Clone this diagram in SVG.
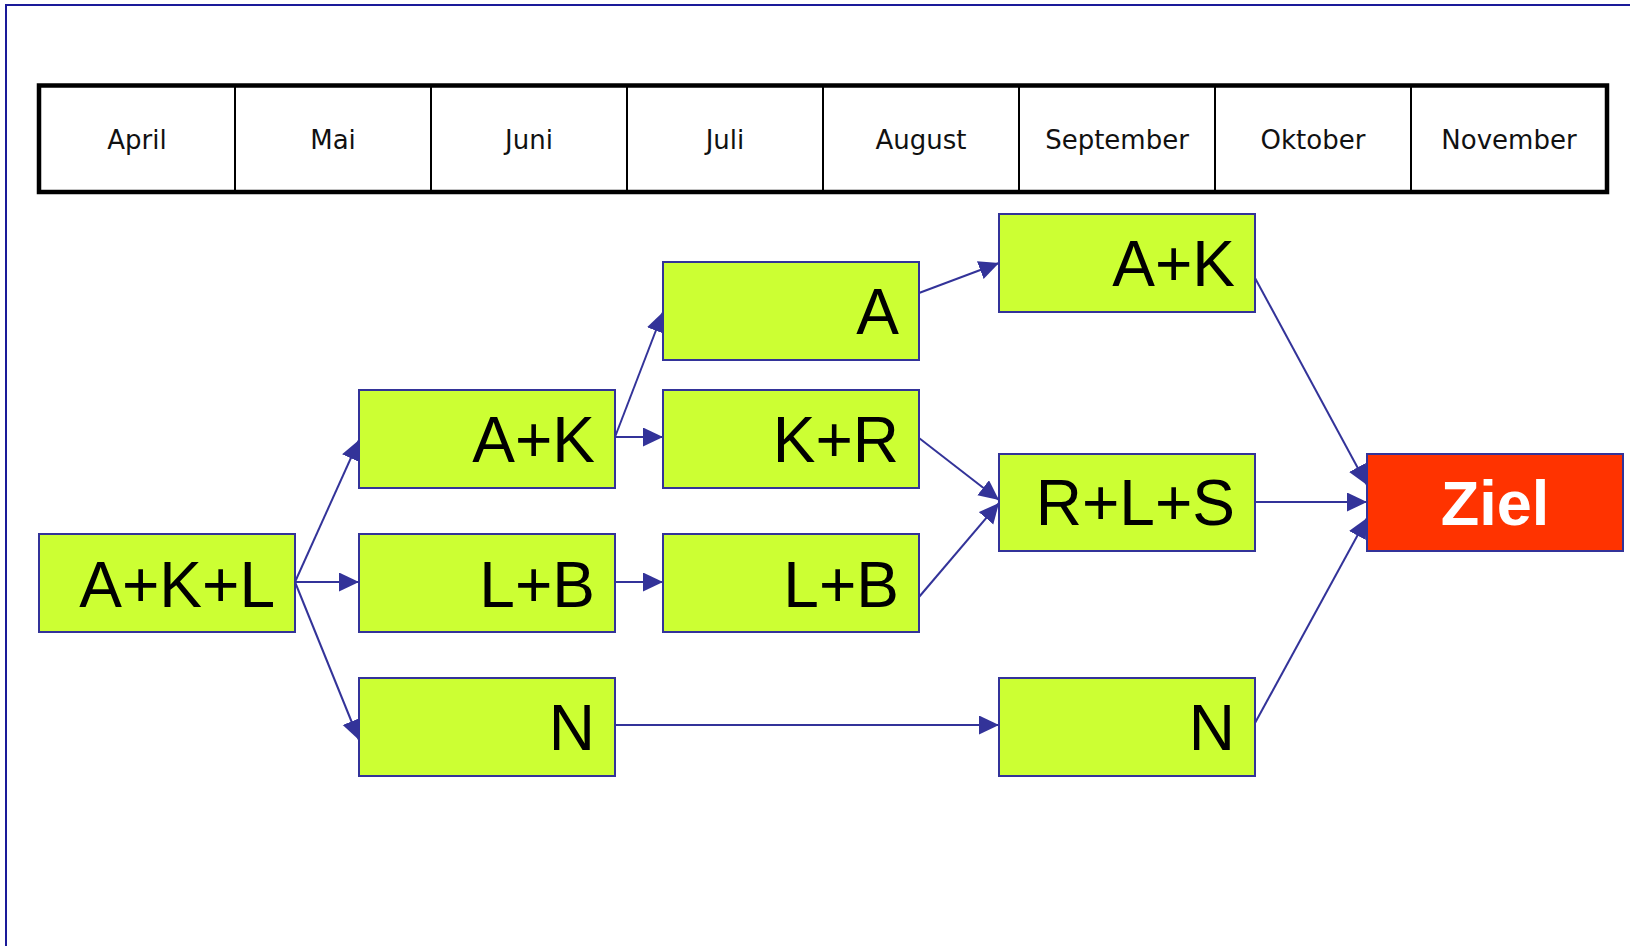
<svg xmlns="http://www.w3.org/2000/svg" width="1630" height="946" viewBox="0 0 1630 946">
<style>
.frame{fill:none;stroke:#1a1a99;stroke-width:2}
.cell{fill:#ffffff;stroke:#000000;stroke-width:2}
.outer{fill:none;stroke:#000000;stroke-width:4.5}
.month{font-family:"DejaVu Sans",Verdana,sans-serif;font-size:26px;fill:#111111;text-anchor:middle}
.box{fill:#ccff33;stroke:#333399;stroke-width:2}
.goal{fill:#ff3300;stroke:#333399;stroke-width:2}
.lbl{font-family:"Liberation Sans",Arial,sans-serif;font-size:64px;fill:#000000;text-anchor:end}
.glbl{font-family:"Liberation Sans",Arial,sans-serif;font-size:63px;font-weight:bold;fill:#ffffff;text-anchor:middle}
.edge{fill:none;stroke:#333399;stroke-width:2;marker-end:url(#arr)}
</style>
<defs>
<marker id="arr" markerUnits="userSpaceOnUse" markerWidth="21" markerHeight="20" refX="20" refY="9.5" orient="auto">
<path d="M0,0 L20,9.5 L0,19 Z" fill="#333399"/>
</marker>
</defs>
<rect x="0" y="0" width="1630" height="946" fill="#ffffff"/>
<rect class="frame" x="6" y="5" width="1700" height="1000"/>
<g id="timeline">
<rect class="cell" x="39" y="85.5" width="196" height="106.5"/>
<rect class="cell" x="235" y="85.5" width="196" height="106.5"/>
<rect class="cell" x="431" y="85.5" width="196" height="106.5"/>
<rect class="cell" x="627" y="85.5" width="196" height="106.5"/>
<rect class="cell" x="823" y="85.5" width="196" height="106.5"/>
<rect class="cell" x="1019" y="85.5" width="196" height="106.5"/>
<rect class="cell" x="1215" y="85.5" width="196" height="106.5"/>
<rect class="cell" x="1411" y="85.5" width="196" height="106.5"/>
<rect class="outer" x="39" y="85.5" width="1568" height="106.5"/>
<text class="month" x="137" y="149">April</text>
<text class="month" x="333" y="149">Mai</text>
<text class="month" x="529" y="149">Juni</text>
<text class="month" x="725" y="149">Juli</text>
<text class="month" x="921" y="149">August</text>
<text class="month" x="1117" y="149">September</text>
<text class="month" x="1313" y="149">Oktober</text>
<text class="month" x="1509" y="149">November</text>
</g>
<g id="connectors">
<line class="edge" x1="295" y1="582" x2="359" y2="440"/>
<line class="edge" x1="295" y1="582" x2="359" y2="582"/>
<line class="edge" x1="295" y1="582" x2="359" y2="740"/>
<line class="edge" x1="615" y1="437" x2="663" y2="312"/>
<line class="edge" x1="615" y1="437" x2="663" y2="437"/>
<line class="edge" x1="615" y1="582" x2="663" y2="582"/>
<line class="edge" x1="919" y1="293" x2="999" y2="263"/>
<line class="edge" x1="919" y1="438" x2="999" y2="500"/>
<line class="edge" x1="919" y1="597" x2="999" y2="503"/>
<line class="edge" x1="615" y1="725" x2="999" y2="725"/>
<line class="edge" x1="1255" y1="278" x2="1367" y2="485"/>
<line class="edge" x1="1255" y1="502" x2="1367" y2="502"/>
<line class="edge" x1="1255" y1="723" x2="1367" y2="518"/>
</g>
<g id="n_akl"><rect class="box" x="39" y="534" width="256" height="98"/><text class="lbl" x="275" y="607">A+K+L</text></g>
<g id="n_ak1"><rect class="box" x="359" y="390" width="256" height="98"/><text class="lbl" x="595" y="462">A+K</text></g>
<g id="n_lb1"><rect class="box" x="359" y="534" width="256" height="98"/><text class="lbl" x="595" y="607">L+B</text></g>
<g id="n_n1"><rect class="box" x="359" y="678" width="256" height="98"/><text class="lbl" x="595" y="750">N</text></g>
<g id="n_a"><rect class="box" x="663" y="262" width="256" height="98"/><text class="lbl" x="899" y="334">A</text></g>
<g id="n_kr"><rect class="box" x="663" y="390" width="256" height="98"/><text class="lbl" x="899" y="462">K+R</text></g>
<g id="n_lb2"><rect class="box" x="663" y="534" width="256" height="98"/><text class="lbl" x="899" y="607">L+B</text></g>
<g id="n_ak2"><rect class="box" x="999" y="214" width="256" height="98"/><text class="lbl" x="1235" y="286">A+K</text></g>
<g id="n_rls"><rect class="box" x="999" y="454" width="256" height="97"/><text class="lbl" x="1235" y="525">R+L+S</text></g>
<g id="n_n2"><rect class="box" x="999" y="678" width="256" height="98"/><text class="lbl" x="1235" y="750">N</text></g>
<g id="n_ziel"><rect class="goal" x="1367" y="454" width="256" height="97"/><text class="glbl" x="1495" y="525">Ziel</text></g>
</svg>
